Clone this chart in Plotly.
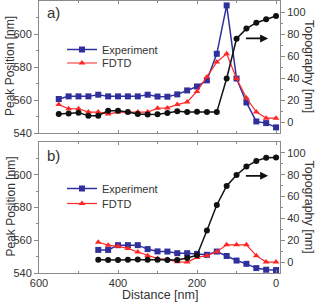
import plotly.graph_objects as go

# ---------------- data ----------------
dist_a = [550, 525, 500, 475, 450, 425, 400, 375, 350, 325, 300, 275,
          250, 225, 200, 175, 150, 125, 100, 75, 50, 25, 0]
exp_a = [560.6, 562.2, 562.2, 562.2, 563.2, 562.2, 562.2, 562.2, 562.2, 563.2, 562.1, 562.0,
         563.4, 565.8, 568.2, 571.9, 588.0, 617.3, 573.0, 558.5, 547.0, 546.0, 543.4]
fdtd_a = [557.2, 554.7, 554.7, 552.7, 552.7, 551.5, 552.7, 552.7, 552.7, 552.7, 555.0, 555.2,
          557.2, 558.8, 565.2, 573.9, 583.0, 588.0, 573.0, 561.2, 552.8, 549.0, 549.0]
topo_a = [7.3, 7.8, 8.5, 5.7, 5.7, 10.3, 10.3, 9.1, 7.3, 6.9, 7.0, 8.2,
          9.7, 9.1, 9.4, 9.1, 9.0, 39.5, 75.7, 84.9, 90.3, 93.3, 96.4]

dist_b = [450, 425, 400, 375, 350, 325, 300, 275, 250, 225, 200, 175,
          150, 125, 100, 75, 50, 25, 0]
exp_b = [554.1, 554.1, 557.0, 557.0, 557.0, 554.6, 553.2, 553.1, 552.1, 552.1, 551.7, 551.1,
         553.1, 550.4, 547.6, 545.6, 543.0, 542.0, 541.8]
fdtd_b = [558.8, 557.0, 556.3, 555.0, 552.8, 550.6, 548.8, 548.3, 546.8, 546.7, 549.5, 550.6,
          553.0, 557.2, 557.2, 557.2, 550.6, 546.7, 546.7]
topo_b = [2.2, 1.8, 1.8, 2.1, 2.4, 2.1, 2.2, 2.0, 2.0, 3.8, 6.3, 29.0,
          52.3, 69.8, 79.8, 87.5, 92.7, 95.5, 95.8]

peak_ticks = [540, 560, 580, 600]
topo_ticks = [0, 20, 40, 60, 80, 100]
dist_ticks = [600, 400, 200, 0]

BLUE = "#30309c"
RED = "#ff2626"
BLACK = "#111111"
AXC = "#8a8a8a"
TXT = "#333333"
FONT = "Arial, 'Liberation Sans', sans-serif"

fig = go.Figure()

def add_panel(xa, ya, ya2, d, e, f, t, lg_e, lg_f):
    fig.add_trace(go.Scatter(x=d, y=e, xaxis=xa, yaxis=ya, mode="lines+markers",
                             name="Experiment", legend=lg_e,
                             line=dict(color=BLUE, width=1.5),
                             marker=dict(symbol="square", size=6, color=BLUE)))
    fig.add_trace(go.Scatter(x=d, y=f, xaxis=xa, yaxis=ya, mode="lines+markers",
                             name="FDTD", legend=lg_f,
                             line=dict(color=RED, width=1.2),
                             marker=dict(symbol="triangle-up", size=6, color=RED)))
    fig.add_trace(go.Scatter(x=d, y=t, xaxis=xa, yaxis=ya2, mode="lines+markers",
                             showlegend=False,
                             line=dict(color=BLACK, width=1.5),
                             marker=dict(symbol="circle", size=6, color=BLACK)))

add_panel("x", "y", "y2", dist_a, exp_a, fdtd_a, topo_a, "legend", "legend2")
add_panel("x2", "y3", "y4", dist_b, exp_b, fdtd_b, topo_b, "legend3", "legend4")

tickfont = dict(family=FONT, size=11, color=TXT)
common_x = dict(range=[600, -10], showline=True, linecolor=AXC, linewidth=1, mirror="ticks",
                ticks="inside", ticklen=3, tickcolor=AXC, tickvals=dist_ticks,
                minor=dict(tickvals=[500, 300, 100], ticklen=2, tickcolor=AXC, ticks="inside"),
                showgrid=False, zeroline=False, tickfont=tickfont)
common_yl = dict(range=[540, 620], showline=True, linecolor=AXC, linewidth=1, mirror=False,
                 ticks="outside", ticklen=4, tickcolor=AXC, tickvals=peak_ticks,
                 minor=dict(tickvals=[550, 570, 590, 610], ticklen=2, tickcolor=AXC, ticks="outside"),
                 showgrid=False, zeroline=False, tickfont=tickfont)
common_yr = dict(range=[-10, 110], showline=True, linecolor=AXC, linewidth=1, side="right",
                 ticks="outside", ticklen=4, tickcolor=AXC, tickvals=topo_ticks,
                 minor=dict(tickvals=[10, 30, 50, 70, 90], ticklen=2, tickcolor=AXC, ticks="outside"),
                 showgrid=False, zeroline=False, tickfont=tickfont)

H = 272.0
W = 241.0
def py(p):
    return (273 - p) / H
def px(p):
    return (p - 39) / W

legfont = dict(family=FONT, size=11, color=TXT)
def leg(x, y):
    return dict(x=px(x), y=py(y), xanchor="left", yanchor="middle",
                bgcolor="rgba(0,0,0,0)", borderwidth=0, font=legfont,
                itemwidth=30, tracegroupgap=0)

fig.update_layout(
    width=316, height=302,
    margin=dict(l=39, r=36, t=1, b=29),
    paper_bgcolor="white", plot_bgcolor="white",
    font=dict(family=FONT, size=12, color=TXT),
    xaxis=dict(**common_x, domain=[0, 1], anchor="y", showticklabels=False),
    yaxis=dict(**common_yl, domain=[py(133), 1], anchor="x"),
    yaxis2=dict(**common_yr, overlaying="y", anchor="x"),
    xaxis2=dict(**common_x, domain=[0, 1], anchor="y3"),
    yaxis3=dict(**common_yl, domain=[0, py(142)], anchor="x2"),
    yaxis4=dict(**common_yr, overlaying="y3", anchor="x2"),
    legend=leg(62, 49.5),
    legend2=leg(62, 63),
    legend3=leg(62, 188.5),
    legend4=leg(62, 203.5),
    showlegend=True,
)

ann = []
ann.append(dict(text="a)", x=px(45), y=py(12.5), xref="paper", yref="paper",
                xanchor="left", yanchor="middle", showarrow=False,
                font=dict(family=FONT, size=15, color=TXT)))
ann.append(dict(text="b)", x=px(45), y=py(155.5), xref="paper", yref="paper",
                xanchor="left", yanchor="middle", showarrow=False,
                font=dict(family=FONT, size=15, color=TXT)))
for yc in (66, 206.5):
    ann.append(dict(text="Peak Position [nm]", x=px(10), y=py(yc), xref="paper", yref="paper",
                    textangle=-90, showarrow=False, xanchor="center", yanchor="middle",
                    font=dict(family=FONT, size=12, color=TXT)))
    ann.append(dict(text="Topography [nm]", x=px(309), y=py(yc), xref="paper", yref="paper",
                    textangle=90, showarrow=False, xanchor="center", yanchor="middle",
                    font=dict(family=FONT, size=12.5, color=TXT)))
ann.append(dict(text="Distance [nm]", x=0.5, y=py(295), xref="paper", yref="paper",
                showarrow=False, xanchor="center", yanchor="middle",
                font=dict(family=FONT, size=12.5, color=TXT)))
ann.append(dict(text="", x=20, y=76, xref="x", yref="y2", ax=80, ay=76, axref="x", ayref="y2",
                showarrow=True, arrowhead=2, arrowsize=1, arrowwidth=1.6, arrowcolor=BLACK))
ann.append(dict(text="", x=20, y=79, xref="x2", yref="y4", ax=80, ay=79, axref="x2", ayref="y4",
                showarrow=True, arrowhead=2, arrowsize=1, arrowwidth=1.6, arrowcolor=BLACK))
fig.update_layout(annotations=ann)

fig.write_html("out.html", config={"displayModeBar": False},
               post_script="document.body.style.margin='0';document.body.style.padding='0';")
